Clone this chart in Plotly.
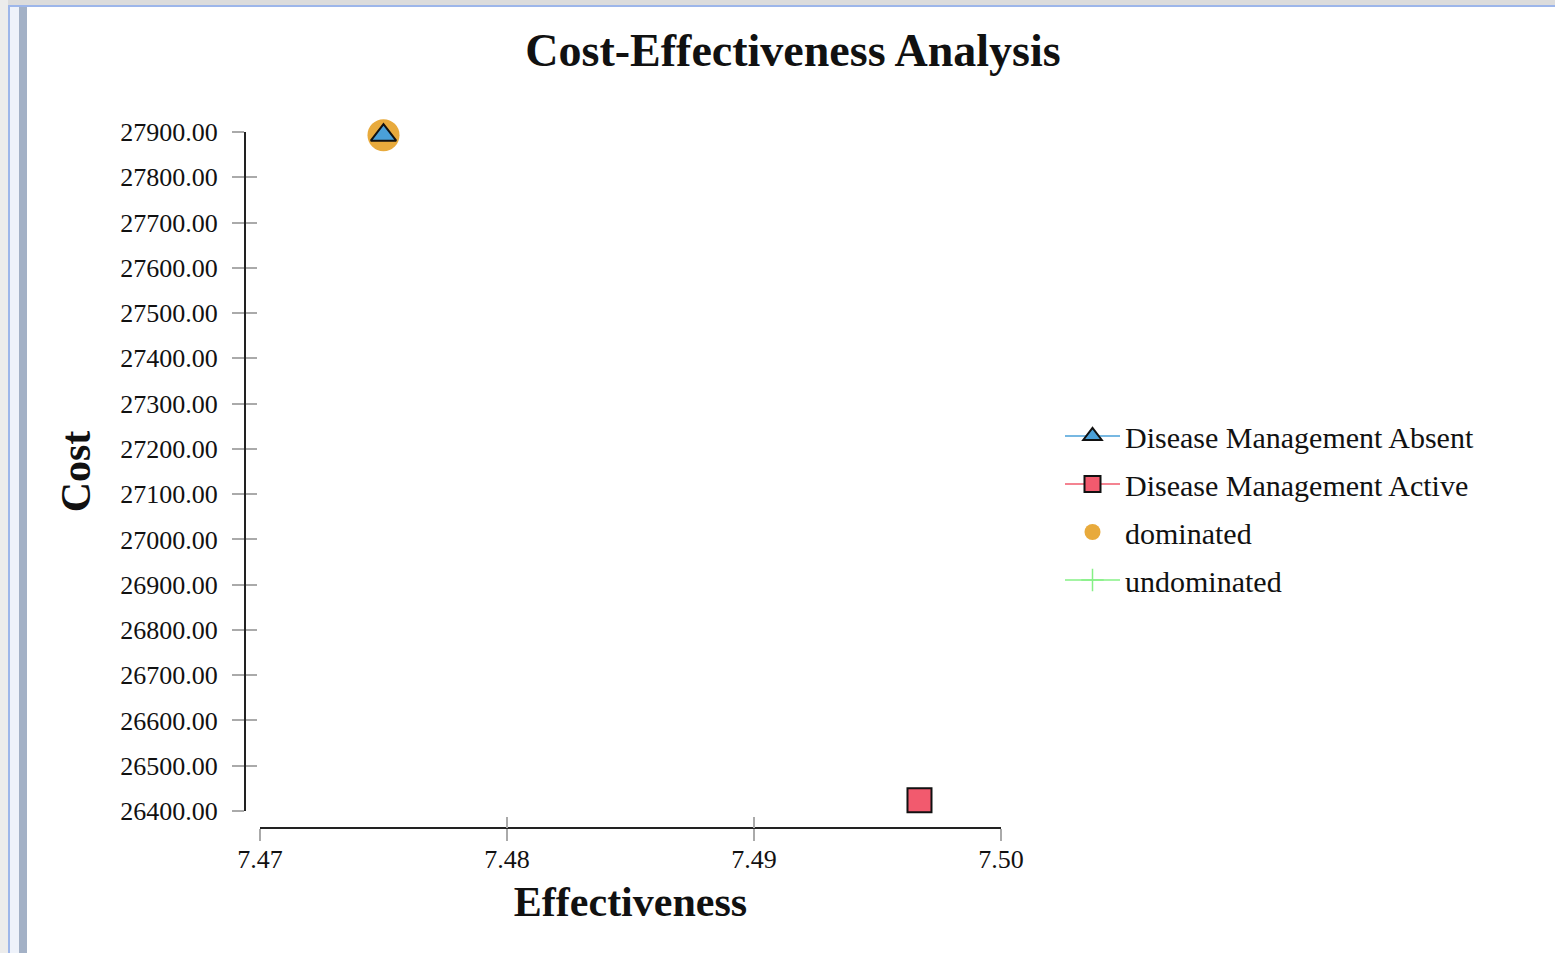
import plotly.graph_objects as go

# ---- data ----
strategies = ["Disease Management Absent", "Disease Management Active"]
effectiveness = [7.4750, 7.4967]
cost = [27893.0, 26424.0]
dominated_eff = [7.4750]
dominated_cost = [27893.0]
undominated_eff = [7.4967]
undominated_cost = [26424.0]

x_ticks = [7.47, 7.48, 7.49, 7.50]
y_ticks = [26400 + 100 * i for i in range(16)]

# ---- layout geometry (pixels) ----
W, H = 1555, 953
L, R, T, B = 245, 554, 132, 125
PW = W - L - R
PH = H - T - B


def px_x(p):
    return (p - L) / PW


def px_y(p):
    return (H - B - p) / PH


serif = "Liberation Serif, Times New Roman, serif"

fig = go.Figure()

# draw order: dominated / undominated under strategies
fig.add_trace(go.Scatter(
    x=dominated_eff, y=dominated_cost, name="dominated", mode="markers",
    marker=dict(symbol="circle", size=32, color="#e8aa3c", line=dict(width=0)),
    legendrank=3, legendgroup="g3", cliponaxis=False))
fig.add_trace(go.Scatter(
    x=undominated_eff, y=undominated_cost, name="undominated", mode="lines+markers",
    line=dict(color="#86f086", width=1.5),
    marker=dict(symbol="cross-thin", size=16, color="#86f086",
                line=dict(color="#86f086", width=1.5)),
    legendrank=4, legendgroup="g4", cliponaxis=False))
fig.add_trace(go.Scatter(
    x=[effectiveness[0]], y=[cost[0]], name=strategies[0], mode="lines+markers",
    line=dict(color="#4aa0d8", width=1.5),
    marker=dict(symbol="triangle-up", size=22, color="#4aa0d8",
                line=dict(color="#111111", width=2)),
    legendrank=1, legendgroup="g1", cliponaxis=False))
fig.add_trace(go.Scatter(
    x=[effectiveness[1]], y=[cost[1]], name=strategies[1], mode="lines+markers",
    line=dict(color="#f05a6c", width=1.5),
    marker=dict(symbol="square", size=24, color="#f25a6e",
                line=dict(color="#111111", width=2)),
    legendrank=2, legendgroup="g2", cliponaxis=False))

x_dom0 = px_x(260)
y_dom0 = px_y(811)

axis_common = dict(showgrid=False, zeroline=False, showline=True,
                   linecolor="#222222", linewidth=2,
                   tickcolor="#aaaaaa", tickwidth=1.5,
                   tickfont=dict(family=serif, size=26, color="#111111"))

fig.update_layout(
    width=W, height=H,
    margin=dict(l=L, r=R, t=T, b=B, pad=0),
    paper_bgcolor="white", plot_bgcolor="white",
    title=dict(text="<b>Cost-Effectiveness Analysis</b>", x=793 / W, xref="container",
               xanchor="center", y=1 - 50 / H, yref="container", yanchor="middle",
               font=dict(family=serif, size=46, color="#111111")),
    xaxis=dict(domain=[x_dom0, 1], range=[7.47, 7.50], anchor="free", position=0,
               tickvals=x_ticks, tickformat=".2f", ticks="outside", ticklen=12,
               ticklabelstandoff=-4,
               title=dict(text="<b>Effectiveness</b>", standoff=12,
                          font=dict(family=serif, size=42, color="#111111")),
               **axis_common),
    xaxis2=dict(domain=[x_dom0, 1], range=[7.47, 7.50], anchor="free", position=0,
                overlaying="x", tickvals=x_ticks, ticks="inside", ticklen=11,
                showticklabels=False, showgrid=False, zeroline=False, showline=False,
                tickcolor="#aaaaaa", tickwidth=1.5),
    yaxis=dict(domain=[y_dom0, 1], range=[26400, 27900], anchor="free", position=0,
               tickvals=y_ticks, tickformat=".2f", ticks="outside", ticklen=12,
               ticklabelstandoff=9,
               title=dict(text="<b>Cost</b>", standoff=16,
                          font=dict(family=serif, size=42, color="#111111")),
               **axis_common),
    yaxis2=dict(domain=[y_dom0, 1], range=[26400, 27900], anchor="free", position=0,
                overlaying="y", tickvals=y_ticks, ticks="inside", ticklen=11,
                showticklabels=False, showgrid=False, zeroline=False, showline=False,
                tickcolor="#aaaaaa", tickwidth=1.5),
    legend=dict(x=px_x(1060), xanchor="left", y=px_y(508), yanchor="middle",
                font=dict(family=serif, size=30, color="#111111"),
                bgcolor="rgba(0,0,0,0)", tracegroupgap=6, itemwidth=55),
    showlegend=True,
)

# dummy trace for secondary axes so the inner tick marks render
fig.add_trace(go.Scatter(x=[7.47], y=[26400], xaxis="x2", yaxis="y2", mode="markers",
                         marker=dict(opacity=0), showlegend=False, hoverinfo="skip"))

# window frame decorations
shapes = [
    dict(type="rect", xref="paper", yref="paper", x0=px_x(0), x1=px_x(W), y0=px_y(0), y1=px_y(5),
         fillcolor="#dcdcdc", line=dict(width=0), layer="below"),
    dict(type="rect", xref="paper", yref="paper", x0=px_x(0), x1=px_x(W), y0=px_y(5), y1=px_y(7),
         fillcolor="#9db6ea", line=dict(width=0), layer="below"),
    dict(type="rect", xref="paper", yref="paper", x0=px_x(0), x1=px_x(8), y0=px_y(0), y1=px_y(H),
         fillcolor="#ececec", line=dict(width=0), layer="below"),
    dict(type="rect", xref="paper", yref="paper", x0=px_x(8), x1=px_x(10), y0=px_y(6), y1=px_y(H),
         fillcolor="#9db6ea", line=dict(width=0), layer="below"),
    dict(type="rect", xref="paper", yref="paper", x0=px_x(10), x1=px_x(19), y0=px_y(7), y1=px_y(H),
         fillcolor="#eef2fa", line=dict(width=0), layer="below"),
    dict(type="rect", xref="paper", yref="paper", x0=px_x(19), x1=px_x(27), y0=px_y(7), y1=px_y(H),
         fillcolor="#a3b1c6", line=dict(width=0), layer="below"),
]
fig.update_layout(shapes=shapes)

fig.write_html("out.html", config={"displayModeBar": False},
               post_script="document.body.style.margin='0';")
